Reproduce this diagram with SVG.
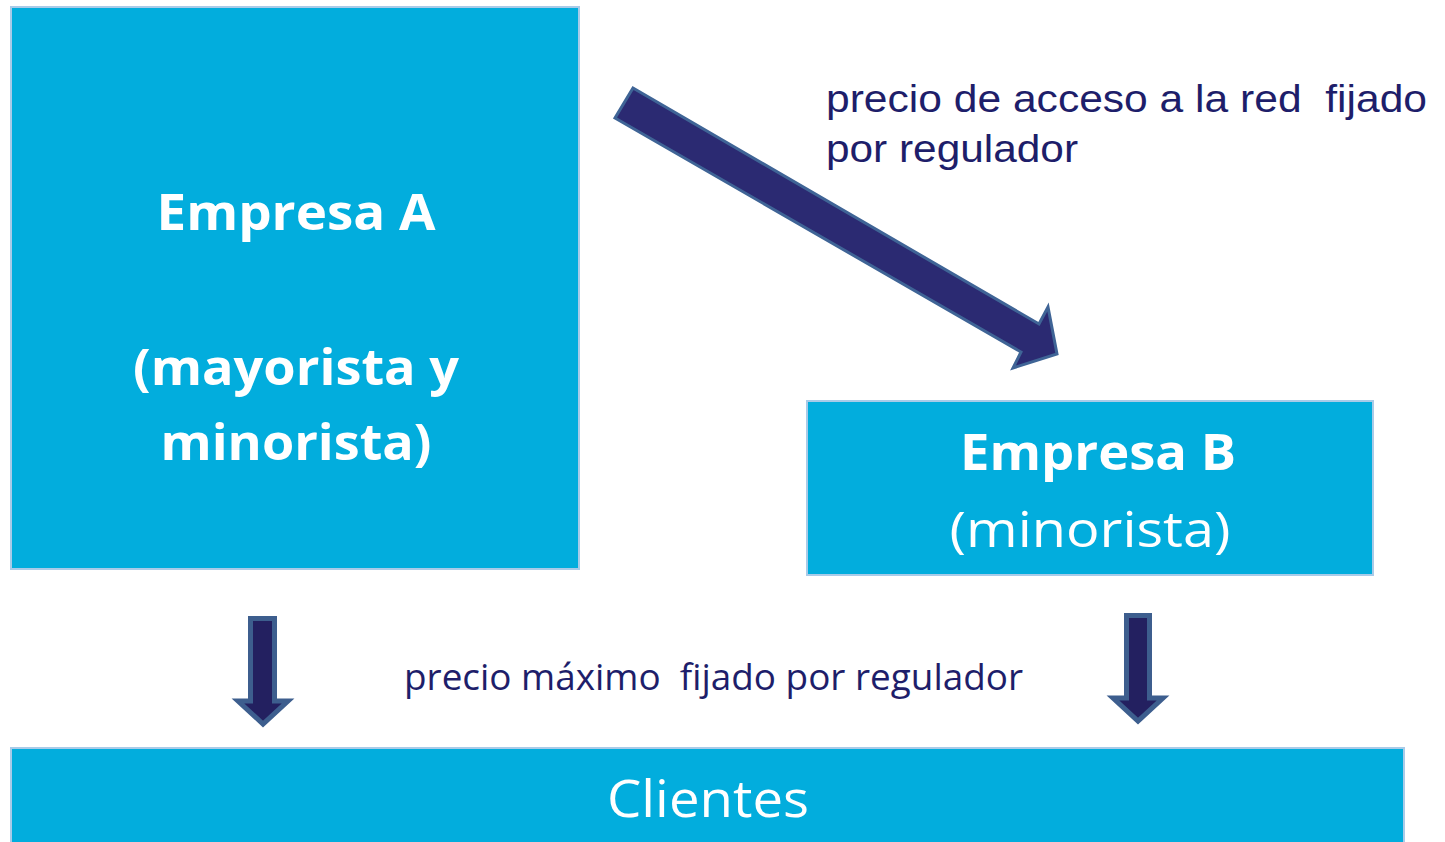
<svg xmlns="http://www.w3.org/2000/svg" width="1445" height="842" viewBox="0 0 1445 842">
<style>
.box{fill:#02ADDD;stroke:#A9CBE8;stroke-width:2}
.wt{fill:#FFFFFF;font-family:"Open Sans","Noto Sans",sans-serif;text-anchor:middle}
.b{font-weight:bold}
.lbl{fill:#1E1E6A;white-space:pre}
.arr{fill:#2B2A72;stroke:#3F6496;stroke-width:3;stroke-linejoin:miter}
.darr{fill:#232060;stroke:#3D5E8E;stroke-width:5;stroke-linejoin:miter}
</style>
<rect width="1445" height="842" fill="#FFFFFF"/>
<g id="empresa-a">
<rect class="box" x="11" y="7" width="568" height="562"/>
<text class="wt b" x="296" y="230" font-size="50" textLength="279" lengthAdjust="spacingAndGlyphs">Empresa A</text>
<text class="wt b" x="296" y="385" font-size="50" textLength="326" lengthAdjust="spacingAndGlyphs">(mayorista y</text>
<text class="wt b" x="296" y="460" font-size="50" textLength="271" lengthAdjust="spacingAndGlyphs">minorista)</text>
</g>
<g id="empresa-b">
<rect class="box" x="807" y="401" width="566" height="174"/>
<text class="wt b" x="1098" y="470" font-size="50" textLength="276" lengthAdjust="spacingAndGlyphs">Empresa B</text>
<text class="wt" x="1090" y="547" font-size="50" textLength="281" lengthAdjust="spacingAndGlyphs">(minorista)</text>
</g>
<g id="clientes">
<rect class="box" x="11" y="748" width="1393" height="100"/>
<text class="wt" x="708" y="817" font-size="52" textLength="202" lengthAdjust="spacingAndGlyphs">Clientes</text>
</g>
<g id="connectors">
<polygon class="arr" points="633,88 1039,324 1048,307 1057,354 1013,368 1021,352 615,118"/>
<polygon class="darr" points="250.5,618.5 274.5,618.5 274.5,701 288,701 263,724 238,701 250.5,701"/>
<polygon class="darr" points="1126.5,615.5 1149.5,615.5 1149.5,698 1163,698 1138,721 1113,698 1126.5,698"/>
</g>
<g id="labels">
<text class="lbl" x="826" y="112" font-family="Liberation Sans, Arial, sans-serif" font-size="38" textLength="601" lengthAdjust="spacingAndGlyphs">precio de acceso a la red  fijado</text>
<text class="lbl" x="826" y="162" font-family="Liberation Sans, Arial, sans-serif" font-size="38" textLength="252" lengthAdjust="spacingAndGlyphs">por regulador</text>
<text class="lbl" x="404" y="690" font-family="Open Sans, Noto Sans, sans-serif" font-size="36" textLength="619" lengthAdjust="spacingAndGlyphs">precio máximo  fijado por regulador</text>
</g>
</svg>
